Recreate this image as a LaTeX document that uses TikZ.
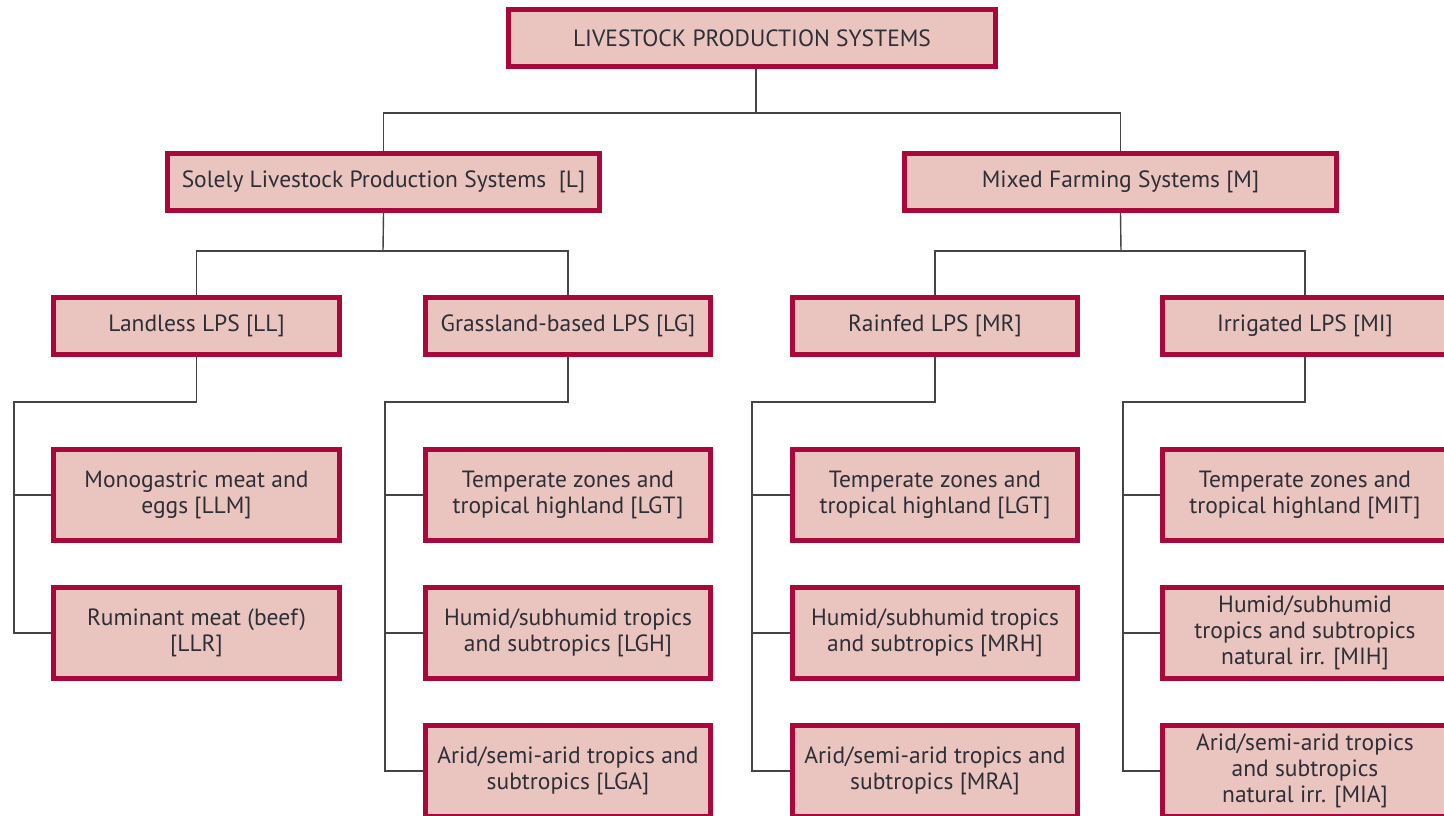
\documentclass[tikz,border=0pt]{standalone}
\usepackage{fontspec}
\setmainfont{PT Sans}
\definecolor{boxline}{HTML}{A9083A}
\definecolor{boxfill}{HTML}{EAC5C0}
\definecolor{wire}{HTML}{444444}
\definecolor{ink}{HTML}{2E2E36}
\begin{document}
\begin{tikzpicture}[x=1pt,y=-1pt,
  box/.style={draw=boxline,fill=boxfill,line width=5pt,inner sep=0pt,
    text=ink,align=center,font=\fontsize{23.5}{26}\selectfont},
  wide/.style={box,minimum width=#1-5pt,minimum height=57pt},
  leaf/.style={box,minimum width=285pt,minimum height=91pt},
  mid/.style={box,minimum width=285pt,minimum height=57pt},
  conn/.style={draw=wire,line width=1.4pt}]
\useasboundingbox (0,0) rectangle (1444,816);
\clip (0,0) rectangle (1444,816);

% root and first level
\node[wide=492pt] (root) at (752,38.5) {LIVESTOCK PRODUCTION SYSTEMS};
\node[wide=437pt] (L) at (383.5,182) {Solely Livestock Production Systems~~[L]};
\node[wide=437pt] (M) at (1120.5,182) {Mixed Farming Systems [M]};

% second level
\node[mid,minimum width=286pt] (LL) at (196.5,326) {Landless LPS [LL]};
\node[mid] (LG) at (568,326) {Grassland-based LPS [LG]};
\node[mid] (MR) at (935,326) {Rainfed LPS [MR]};
\node[mid] (MI) at (1305,326) {Irrigated LPS [MI]};

% leaves
\node[leaf,minimum width=286pt] (LLM) at (196.5,495) {Monogastric meat and\\eggs [LLM]};
\node[leaf,minimum width=286pt] (LLR) at (196.5,633) {Ruminant meat (beef)\\{}[LLR]};

\node[leaf] (LGT) at (568,495) {Temperate zones and\\tropical highland [LGT]};
\node[leaf] (LGH) at (568,633) {Humid/subhumid tropics\\and subtropics [LGH]};
\node[leaf] (LGA) at (568,771) {Arid/semi-arid tropics and\\subtropics [LGA]};

\node[leaf] (MRT) at (935,495) {Temperate zones and\\tropical highland [LGT]};
\node[leaf] (MRH) at (935,633) {Humid/subhumid tropics\\and subtropics [MRH]};
\node[leaf] (MRA) at (935,771) {Arid/semi-arid tropics and\\subtropics [MRA]};

\node[leaf] (MIT) at (1305,495) {Temperate zones and\\tropical highland [MIT]};
\node[leaf] (MIH) at (1305,633) {Humid/subhumid\\tropics and subtropics\\natural irr. [MIH]};
\node[leaf] (MIA) at (1305,771) {Arid/semi-arid tropics\\and subtropics\\natural irr. [MIA]};

% junction points
\coordinate (j0) at (756,113);
\coordinate (jL) at (383,251);
\coordinate (jM) at (1121,251);
\coordinate (sLL) at (14,402);
\coordinate (sLG) at (385,402);
\coordinate (sMR) at (752,402);
\coordinate (sMI) at (1123,402);

% connectors
\draw[conn] (root.south -| j0) -- (j0);
\draw[conn] (L.north) |- (M.north |- j0) -- (M.north);
\draw[conn] (L.south) -- (jL);
\draw[conn] (LL.north) |- (LG.north |- jL) -- (LG.north);
\draw[conn] (M.south) -- (jM);
\draw[conn] (MR.north) |- (MI.north |- jM) -- (MI.north);

\draw[conn] (LL.south) |- (sLL) |- (LLR.west);
\draw[conn] (sLL |- LLM.west) -- (LLM.west);

\draw[conn] (LG.south) |- (sLG) |- (LGA.west);
\draw[conn] (sLG |- LGT.west) -- (LGT.west);
\draw[conn] (sLG |- LGH.west) -- (LGH.west);

\draw[conn] (MR.south) |- (sMR) |- (MRA.west);
\draw[conn] (sMR |- MRT.west) -- (MRT.west);
\draw[conn] (sMR |- MRH.west) -- (MRH.west);

\draw[conn] (MI.south) |- (sMI) |- (MIA.west);
\draw[conn] (sMI |- MIT.west) -- (MIT.west);
\draw[conn] (sMI |- MIH.west) -- (MIH.west);
\end{tikzpicture}
\end{document}
